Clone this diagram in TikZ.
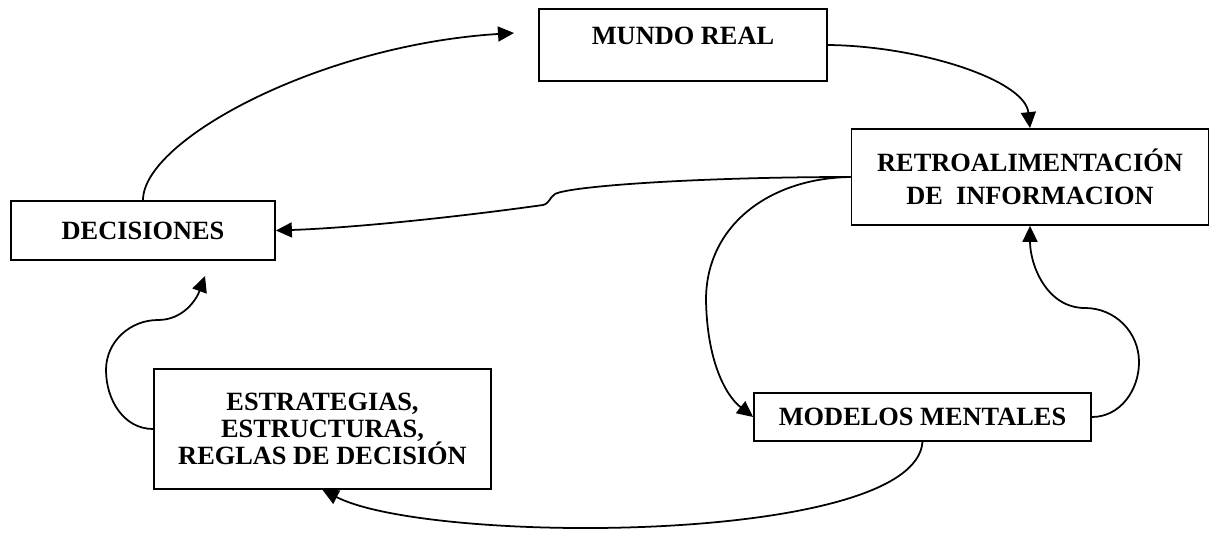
\documentclass[tikz,border=0pt]{standalone}
\usepackage{fontspec}
\setmainfont{Liberation Serif}
\usetikzlibrary{arrows.meta}

\begin{document}
\begin{tikzpicture}[b/.style={draw,align=center,inner sep=0pt,font=\fontsize{15}{18}\selectfont\bfseries},>={Triangle[length=3.2mm,width=3mm]},line width=1pt]
\useasboundingbox (0,0) rectangle (24.22,-10.74);
\node[b,minimum width=5.76cm,minimum height=1.44cm,text height=0.36cm,text depth=0.36cm] (mr) at (13.66,-0.9) {MUNDO REAL};
\node[b,minimum width=7.14cm,minimum height=1.92cm,font=\fontsize{15}{18.8}\selectfont\bfseries] (ri) at (20.6,-3.54) {RETROALIMENTACIÓN\\DE~~INFORMACION};
\node[b,minimum width=5.28cm,minimum height=1.18cm] (dc) at (2.86,-4.61) {DECISIONES};
\node[b,minimum width=6.74cm,minimum height=2.4cm,font=\fontsize{15}{15.4}\selectfont\bfseries] (er) at (6.45,-8.58) {ESTRATEGIAS,\\ESTRUCTURAS,\\REGLAS DE DECISIÓN};
\node[b,minimum width=6.74cm,minimum height=0.96cm] (mm) at (18.45,-8.34) {MODELOS MENTALES};
\coordinate (c1) at (10.28,-0.66);
\coordinate (c2) at (4.1,-5.52);
\draw[->] (dc.north) .. controls (2.86,-2.8) and (6.4,-0.9) .. (c1);
\draw[->] (mr.east) .. controls (18.4,-0.92) and (20.5,-1.6) .. (ri.north);
\draw[->] (ri.west) .. controls (14.0,-3.54) and (11.4,-3.72) .. (11.1,-3.88) .. controls (10.98,-3.96) and (11.0,-4.06) .. (10.86,-4.1) .. controls (9.0,-4.36) and (7.0,-4.56) .. (dc.east);
\draw[->] (ri.west) .. controls (15.4,-3.56) and (14.12,-4.5) .. (14.12,-6.0) .. controls (14.14,-7.2) and (14.5,-7.9) .. (mm.west);
\draw[->] (mm.east) to[out=0,in=-90] (22.78,-7.24) to[out=90,in=0] (21.7,-6.16) to[out=180,in=-90] (ri.south);
\draw[->] (mm.south) .. controls (18.3,-10.9) and (8.6,-10.9) .. (er.south);
\draw[->] (er.west) to[out=180,in=-90] (2.12,-7.4) to[out=90,in=180] (3.16,-6.4) to[out=0,in=-110] (c2);
\end{tikzpicture}
\end{document}
